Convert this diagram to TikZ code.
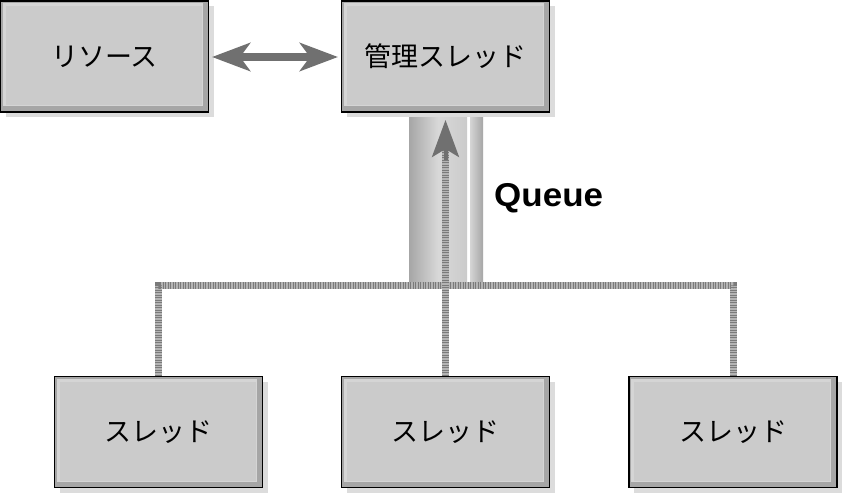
\documentclass[tikz,border=0pt]{standalone}
\usepackage{fontspec}
\setmainfont{Liberation Sans}
\newfontfamily\jp{Noto Sans CJK JP}
\usetikzlibrary{arrows.meta}
\definecolor{face}{HTML}{CBCBCB}
\definecolor{bevel}{HTML}{A6A6A6}
\definecolor{shadowc}{HTML}{DCDCDC}
\definecolor{arrowc}{HTML}{707070}
\definecolor{hatchbase}{HTML}{B4B4B4}
\definecolor{hatchtick}{HTML}{7A7A7A}
\tikzset{
  box/.style={rectangle, draw=black, line width=1.2pt, fill=bevel,
    minimum width=208pt, minimum height=111pt, inner sep=0pt,
    font=\jp\fontsize{27}{31}\selectfont,
    preaction={draw=none, fill=shadowc, transform canvas={shift={(5pt,-5pt)}}},
    path picture={
      \fill[face!80!white] ([shift={(2pt,-2pt)}]path picture bounding box.north west)
        rectangle ([shift={(-6pt,6pt)}]path picture bounding box.south east);
      \fill[face] ([shift={(5pt,-5pt)}]path picture bounding box.north west)
        rectangle ([shift={(-7pt,7pt)}]path picture bounding box.south east);
    }},
  hatchbg/.style={draw=hatchbase, line width=7pt},
  hatchfg/.style={draw=hatchtick, line width=7pt, dash pattern=on 1.2pt off 1.3pt},
}
\begin{document}
\begin{tikzpicture}[x=1pt,y=-1pt]
\useasboundingbox (0,0) rectangle (844,495);
\fill[white] (0,0) rectangle (844,495);

% queue pipe (behind boxes)
\coordinate (pipeTL) at (409,113);
\coordinate (pipeBR) at (467,285);
\coordinate (pipe2TL) at (470,113);
\coordinate (pipe2BR) at (483,285);
\shade[left color=bevel, right color=face, middle color=face!75!white] (pipeTL) rectangle (pipeBR);
\shade[left color=face!80!white, right color=bevel] (pipe2TL) rectangle (pipe2BR);

% boxes
\node[box] (res) at (104.5,56.5) {リソース};
\node[box] (mgr) at (445.5,56.5) {管理スレッド};
\node[box] (t1) at (158.5,432) {スレッド};
\node[box] (t2) at (445.5,432) {スレッド};
\node[box] (t3) at (733,432) {スレッド};

% bus
\coordinate (bus) at (445.5,285);
\draw[hatchbg] (t1.north) |- (bus) -| (t3.north);
\draw[hatchfg] (t1.north) |- (bus) -| (t3.north);

% upward arrow in queue
\coordinate (qbase) at (445.5,150);
\coordinate (qtip) at (445.5,120);
\draw[hatchbg] (t2.north) -- (qbase);
\draw[hatchfg] (t2.north) -- (qbase);
\draw[draw=arrowc, line width=4pt, -{Stealth[length=37pt, width=27pt, inset=8pt]}] (445.5,160) -- (qtip);

% double arrow
\coordinate (da1) at (212,57);
\coordinate (da2) at (338,57);
\draw[draw=arrowc, line width=8pt, {Stealth[length=38pt, width=28pt, inset=10pt]}-{Stealth[length=38pt, width=28pt, inset=10pt]}] (da1) -- (da2);

% label
\node[font=\bfseries\fontsize{33}{36}\selectfont, xscale=1.06, anchor=base west, inner sep=0pt] (qlabel) at (494,206) {Queue};
\end{tikzpicture}
\end{document}
